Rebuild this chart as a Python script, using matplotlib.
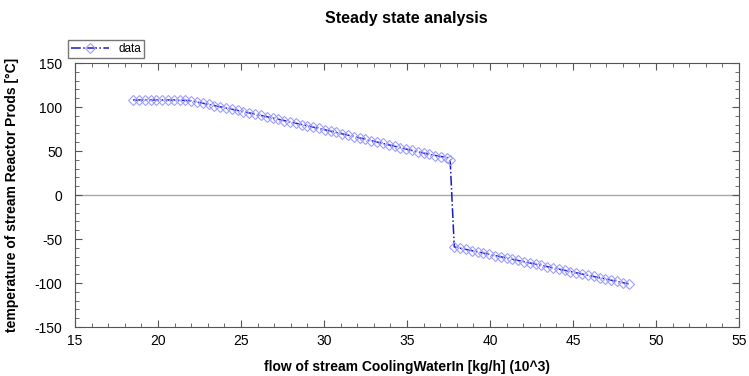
import matplotlib
matplotlib.use("Agg")
import matplotlib.pyplot as plt
from matplotlib.ticker import MultipleLocator

plt.rcParams['font.family'] = ['Liberation Sans', 'DejaVu Sans']
plt.rcParams['axes.unicode_minus'] = False

# steady state sweep: cooling water flow (10^3 kg/h) vs reactor product temperature (C)
flow = [18.5, 18.85, 19.2, 19.55, 19.9, 20.25, 20.6, 20.95, 21.3, 21.65, 22.0,
        22.35, 22.7, 23.05, 23.4, 23.75, 24.1, 24.45, 24.8, 25.15, 25.5, 25.85,
        26.2, 26.55, 26.9, 27.25, 27.6, 27.95, 28.3, 28.65, 29.0, 29.35, 29.7,
        30.05, 30.4, 30.75, 31.1, 31.45, 31.8, 32.15, 32.5, 32.85, 33.2, 33.55,
        33.9, 34.25, 34.6, 34.95, 35.3, 35.65, 36.0, 36.35, 36.7, 37.05, 37.4,
        37.6,
        37.85, 38.2, 38.55, 38.9, 39.25, 39.6, 39.95, 40.3, 40.65, 41.0, 41.35,
        41.7, 42.05, 42.4, 42.75, 43.1, 43.45, 43.8, 44.15, 44.5, 44.85, 45.2,
        45.55, 45.9, 46.25, 46.6, 46.95, 47.3, 47.65, 48.0, 48.35]
temperature = [108, 108, 108, 108, 108, 108, 108, 108, 107.8, 107.5, 107,
               105.6, 104.3, 102.9, 101.6, 100.2, 98.9, 97.5, 96.1, 94.7, 93.3, 91.9,
               90.4, 89.0, 87.5, 86.1, 84.6, 83.1, 81.6, 80.1, 78.6, 77.1, 75.6,
               74.1, 72.6, 71.1, 69.5, 68.0, 66.4, 64.9, 63.3, 61.8, 60.2, 58.6,
               57.0, 55.4, 53.8, 52.2, 50.6, 49.1, 47.6, 46.2, 44.9, 43.7, 42.6,
               40.0,
               -59.0, -60.4, -61.8, -63.2, -64.6, -66.0, -67.4, -68.8, -70.2, -71.6, -73.0,
               -74.4, -75.8, -77.2, -78.6, -80.0, -81.4, -82.8, -84.2, -85.6, -87.0, -88.4,
               -89.8, -91.2, -92.6, -94.0, -95.4, -96.8, -98.2, -99.6, -101.0]


fig = plt.figure(figsize=(7.49, 3.76), dpi=100)
ax = fig.add_axes([0.1001, 0.1303, 0.8865, 0.7021])

ax.axhline(0, color='#a8a8a8', lw=1, zorder=1)
line, = ax.plot(flow, temperature, linestyle='-.', color='#1a1acc', lw=1.1,
                marker='D', markersize=5.5, mfc='none', mec='#a0a0ff', mew=0.8,
                label='data', zorder=3)

ax.set_xlim(15, 55)
ax.set_ylim(-150, 150)
ax.xaxis.set_major_locator(MultipleLocator(5))
ax.xaxis.set_minor_locator(MultipleLocator(1))
ax.yaxis.set_major_locator(MultipleLocator(50))
ax.yaxis.set_minor_locator(MultipleLocator(10))
ax.tick_params(which='both', direction='in', top=True, right=True,
               color='#555555', labelsize=10)
ax.tick_params(axis='y', pad=9)
ax.tick_params(axis='x', pad=5)
ax.tick_params(which='major', length=5)
ax.tick_params(which='minor', length=3)
for s in ax.spines.values():
    s.set_color('#555555')
    s.set_linewidth(0.8)

ax.set_xlabel('flow of stream CoolingWaterIn [kg/h] (10^3)', fontsize=10,
              fontweight='bold')
ax.set_ylabel('temperature of stream Reactor Prods [°C]', fontsize=10,
              fontweight='bold')
ax.xaxis.set_label_coords(0.5, -0.125)
ax.yaxis.set_label_coords(-0.085, 0.5)
fig.text(0.543, 0.952, 'Steady state analysis', ha='center', va='center',
         fontsize=11.5, fontweight='bold')

fig.legend(handles=[line], loc='upper left', bbox_to_anchor=(0.083, 0.91),
           fontsize=8.5, frameon=True, fancybox=False, edgecolor='#555555',
           handlelength=3.2, borderpad=0.25, handletextpad=0.8)

fig.savefig('out.png', dpi=100)
